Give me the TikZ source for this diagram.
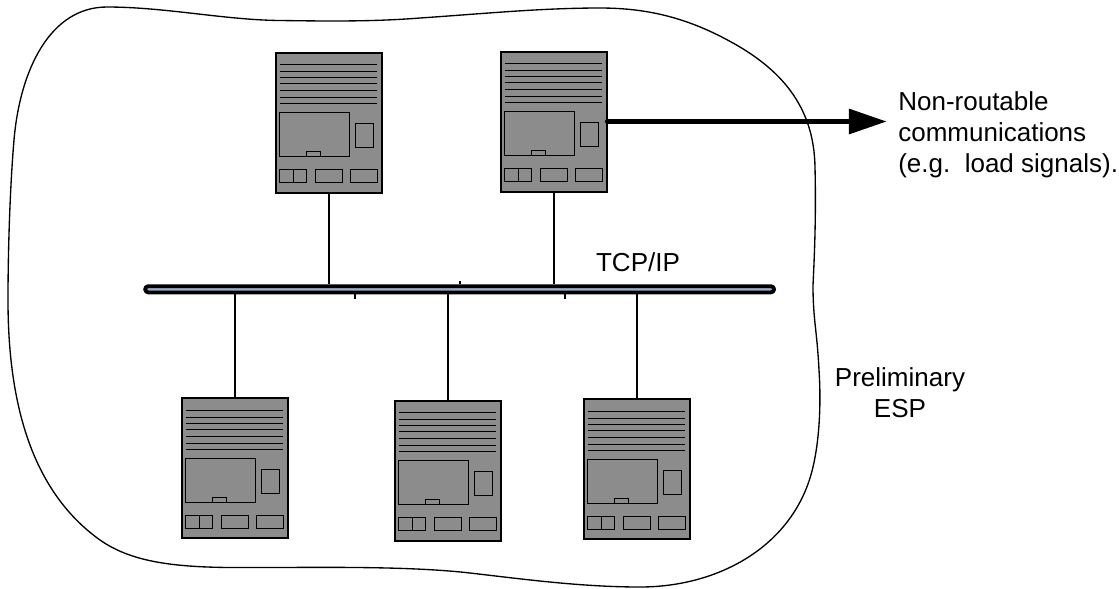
\documentclass[tikz,border=0pt]{standalone}
\usepackage{fontspec}
\setmainfont{Liberation Sans}
\usetikzlibrary{arrows.meta}
\definecolor{panelGrey}{RGB}{140, 140, 140}
\definecolor{busBlue}{RGB}{150, 170, 200}

\tikzset{
    panel/.pic={
        \draw [panelline]
            (4.5,13) -- (102,13) (4.5,20) -- (102,20) (4.5,26) -- (102,26)
            (4.5,32) -- (102,32) (4.5,39) -- (102,39) (4.5,46) -- (102,46)
            (4.5,52) -- (102,52);
        \draw [panelline] (4.5,61) rectangle (74,105);
        \draw [panelline] (31,105) |- (45,100) -- (45,105);
        \draw [panelline] (80,72) rectangle (98,96);
        \draw [panelline] (4.5,118) rectangle (31,131) (18,118) -- (18,131);
        \draw [panelline] (40,118) rectangle (67,131);
        \draw [panelline] (75,118) rectangle (102,131);
    }
}

\begin{document}
\begin{tikzpicture}
    [
        x=0.025cm, y=-0.025cm,
        device/.style={
            draw, rectangle, fill=panelGrey, line width=1.2pt,
            minimum width=2.65cm, minimum height=3.5cm, inner sep=0pt
        },
        panelline/.style={draw, line width=0.7pt},
        wire/.style={draw, line width=1.05pt},
        label/.style={
            inner sep=0pt, align=center,
            font=\fontsize{18.5}{22}\selectfont
        }
    ]
\useasboundingbox (0,0) rectangle (1119,588);

% Zone outline
\draw [line width=0.95pt] (107,7)
    .. controls (50,7) and (20,70) .. (14,140)
    .. controls (10,187) and (8,250) .. (8,300)
    .. controls (8,400) and (30,490) .. (100,540)
    .. controls (130,561) and (170,567) .. (230,567.5)
    .. controls (300,568) and (400,565) .. (470,573)
    .. controls (520,578.7) and (580,587) .. (640,587)
    .. controls (720,587) and (795,545) .. (813,467)
    .. controls (820,437) and (821,400) .. (819,370)
    .. controls (817,330) and (813,320) .. (813,285)
    .. controls (815,245) and (816,210) .. (815,167)
    .. controls (814,110) and (785,72) .. (733,43)
    .. controls (690,19) and (650,8) .. (600,8)
    .. controls (540,8) and (480,14) .. (420,18)
    .. controls (370,22) and (320,21) .. (280,20.5)
    .. controls (225,20) and (165,7) .. (107,7) -- cycle;

% Devices
\node (deviceA) [device] at (329,122.7) {};
\node (deviceB) [device] at (554,121.7) {};
\node (deviceC) [device] at (235,468) {};
\node (deviceD) [device] at (448,470.7) {};
\node (deviceE) [device] at (637,469) {};

\pic at (deviceA.north west) {panel};
\pic at (deviceB.north west) {panel};
\pic at (deviceC.north west) {panel};
\pic at (deviceD.north west) {panel};
\pic at (deviceE.north west) {panel};

% Bus
\node (bus) [
        draw, rectangle, rounded corners=2.2pt, fill=busBlue, line width=2.7pt,
        line join=round, minimum width=15.72cm, minimum height=0.155cm,
        inner sep=0pt
    ] at (459.6,289.3) {};

\draw [wire] (deviceA.south) -- (deviceA.south |- bus.north);
\draw [wire] (deviceB.south) -- (deviceB.south |- bus.north);
\draw [wire] (deviceC.north) -- (deviceC.north |- bus.south);
\draw [wire] (deviceD.north) -- (deviceD.north |- bus.south);
\draw [wire] (deviceE.north) -- (deviceE.north |- bus.south);

% Stubs on the bus
\coordinate (stubA) at (355,299);
\coordinate (stubB) at (460,280.5);
\coordinate (stubC) at (565,299);
\draw [wire, line width=0.8pt] (stubA |- bus.south) -- (stubA);
\draw [wire, line width=0.8pt] (stubB |- bus.north) -- (stubB);
\draw [wire, line width=0.8pt] (stubC |- bus.south) -- (stubC);

% Outgoing link
\coordinate (linkEnd) at (887,121.5);
\draw [
        line width=4.2pt, line cap=round,
        -{Triangle[length=0.95cm, width=0.6cm]}
    ] (deviceB.east |- linkEnd) -- (linkEnd);

% Labels
\node (busLabel) [label, anchor=base] at (638,271.7) {TCP/IP};
\node (linkLabel) [label, anchor=north west, align=left] at (898,91) {
    Non-routable\\communications\\(e.g.\ \ load signals).};
\node (zoneLabel) [label, anchor=north] at (900,367.5) {Preliminary\\ESP};

\end{tikzpicture}
\end{document}
